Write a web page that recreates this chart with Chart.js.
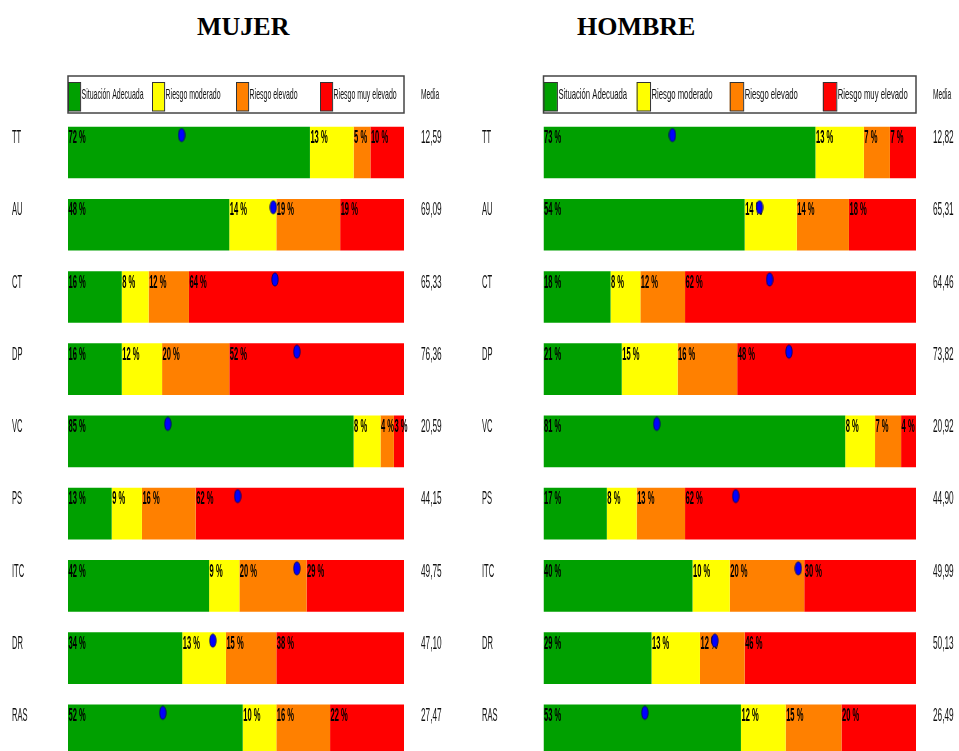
<!DOCTYPE html>
<html>
<head>
<meta charset="utf-8">
<script src="https://cdn.jsdelivr.net/npm/chart.js@4.4.1/dist/chart.umd.min.js"></script>
<style>
  body { margin: 0; background: #fff; width: 959px; height: 751px; overflow: hidden; position: relative; }
  .title { position: absolute; top: 12px; margin: 0; line-height: 26px; font: bold 26px "Liberation Serif", "Times New Roman", serif; color: #000; }
  canvas { position: absolute; top: 0; }
</style>
</head>
<body>
<div class="title" style="left:197px">MUJER</div>
<div class="title" style="left:577px">HOMBRE</div>
<canvas id="mujer" width="480" height="780" style="left:0"></canvas>
<canvas id="hombre" width="479" height="780" style="left:480px"></canvas>
<script>
const categories = ['TT', 'AU', 'CT', 'DP', 'VC', 'PS', 'ITC', 'DR', 'RAS'];
const seriesNames = ['Situación Adecuada', 'Riesgo moderado', 'Riesgo elevado', 'Riesgo muy elevado'];
const seriesColors = ['#00a000', '#ffff00', '#ff8000', '#ff0000'];

// mujer
const mujerAdecuada = [72, 48, 16, 16, 85, 13, 42, 34, 52];
const mujerModerado = [13, 14, 8, 12, 8, 9, 9, 13, 10];
const mujerElevado = [5, 19, 12, 20, 4, 16, 20, 15, 16];
const mujerMuyElevado = [10, 19, 64, 52, 3, 62, 29, 38, 22];
const mujerMedia = [12.59, 69.09, 65.33, 76.36, 20.59, 44.15, 49.75, 47.10, 27.47];
const mujerPunto = [33.8, 61.1, 61.6, 68.1, 29.7, 50.5, 68.1, 43.1, 28.2];

// hombre
const hombreAdecuada = [73, 54, 18, 21, 81, 17, 40, 29, 53];
const hombreModerado = [13, 14, 8, 15, 8, 8, 10, 13, 12];
const hombreElevado = [7, 14, 12, 16, 7, 13, 20, 12, 15];
const hombreMuyElevado = [7, 18, 62, 48, 4, 62, 30, 46, 20];
const hombreMedia = [12.82, 65.31, 64.46, 73.82, 20.92, 44.90, 49.99, 50.13, 26.49];
const hombrePunto = [34.6, 58.0, 60.7, 65.9, 30.4, 51.6, 68.4, 46.0, 27.2];

// blue marker, drawn above the centre so it sits near the top of the bar
const makeDot = () => {
    const c = document.createElement('canvas');
    c.width = 8;
    c.height = 50;
    const ctx = c.getContext('2d');
    ctx.beginPath();
    ctx.ellipse(4, 7.5, 3.2, 6.6, 0, 0, Math.PI * 2);
    ctx.fillStyle = '#0000ff';
    ctx.fill();
    ctx.lineWidth = 0.8;
    ctx.strokeStyle = '#00005a';
    ctx.stroke();
    return c;
}

const narrowText = (ctx, text, x, y, size, scale, weight, color) => {
    ctx.save();
    ctx.translate(x, y);
    ctx.scale(scale, 1);
    ctx.font = `${weight} ${size}px "Liberation Sans", Arial, sans-serif`;
    ctx.fillStyle = color;
    ctx.textBaseline = 'alphabetic';
    ctx.textAlign = 'left';
    ctx.fillText(text, 0, 0);
    ctx.restore();
}

const panelText = {
    id: 'panelText',
    beforeDatasetDraw(chart, args, opts) {
        // percentage labels go after all bars, under the markers
        if (args.meta.type !== 'line') return;
        const ctx = chart.ctx;
        chart.data.datasets.forEach((ds, i) => {
            if (ds.type === 'line') return;
            const meta = chart.getDatasetMeta(i);
            meta.data.forEach((bar, j) => {
                const { y, base, height } = bar.getProps(['y', 'base', 'height'], true);
                const left = Math.min(base, bar.x);
                narrowText(ctx, ds.data[j] + ' %', left + 0.5, y - height / 2 + 16.5, 18, 0.42, 'bold', '#000');
            });
        });
    },
    afterDraw(chart, args, opts) {
        const ctx = chart.ctx;
        const area = chart.chartArea;
        const yScale = chart.scales.y;

        // legend frame
        const top = 76, bottom = 113;
        ctx.save();
        ctx.strokeStyle = '#444';
        ctx.lineWidth = 1.5;
        ctx.strokeRect(area.left, top, area.width, bottom - top);
        const step = area.width / 4;
        const boxW = area.width * 0.036;
        const bars = chart.data.datasets.filter(ds => ds.type !== 'line');
        bars.forEach((ds, i) => {
            const x = area.left + i * step;
            ctx.fillStyle = ds.backgroundColor;
            ctx.fillRect(x, 82, boxW, 29);
            ctx.lineWidth = 1;
            ctx.strokeStyle = '#333';
            ctx.strokeRect(x + 0.5, 82.5, boxW, 28.5);
            narrowText(ctx, ds.label, x + boxW + 1.5, 99, 14.5, 0.48 * area.width / 336, 'normal', '#111');
        });
        ctx.restore();

        narrowText(ctx, 'Media', area.right + 17, 99, 14.5, 0.46, 'normal', '#111');

        categories.forEach((cat, i) => {
            const y = yScale.getPixelForValue(i) - 9.3;
            narrowText(ctx, cat, opts.labelX, y, 18, 0.42, 'normal', '#111');
            const m = opts.media[i].toFixed(2).replace('.', ',');
            narrowText(ctx, m, area.right + 17, y, 18, 0.46, 'normal', '#111');
        });
    }
};

const buildChart = (id, series, media, punto, padding, labelX) => {
    const datasets = [{
        type: 'line',
        label: 'Media',
        data: punto,
        indexAxis: 'y',
        stack: 'punto',
        showLine: false,
        pointStyle: makeDot(),
        pointRadius: 4,
        order: 0
    }];
    series.forEach((values, i) => {
        datasets.push({
            type: 'bar',
            label: seriesNames[i],
            data: values,
            backgroundColor: seriesColors[i],
            borderWidth: 0,
            barPercentage: 0.715,
            categoryPercentage: 1,
            order: 1
        });
    });

    return new Chart(document.getElementById(id), {
        type: 'bar',
        data: { labels: categories, datasets },
        options: {
            indexAxis: 'y',
            responsive: false,
            animation: false,
            events: [],
            layout: { padding },
            scales: {
                x: { type: 'linear', min: 0, max: 100, stacked: true, display: false },
                y: { type: 'category', stacked: true, display: false, offset: true }
            },
            plugins: {
                legend: { display: false },
                tooltip: { enabled: false },
                panelText: { labelX, media }
            }
        },
        plugins: [panelText]
    });
}

buildChart('mujer',
    [mujerAdecuada, mujerModerado, mujerElevado, mujerMuyElevado],
    mujerMedia, mujerPunto,
    { left: 68, right: 76, top: 116.4, bottom: 13.6 }, 12);

buildChart('hombre',
    [hombreAdecuada, hombreModerado, hombreElevado, hombreMuyElevado],
    hombreMedia, hombrePunto,
    { left: 63.5, right: 43, top: 116.4, bottom: 13.6 }, 2);
</script>
</body>
</html>
